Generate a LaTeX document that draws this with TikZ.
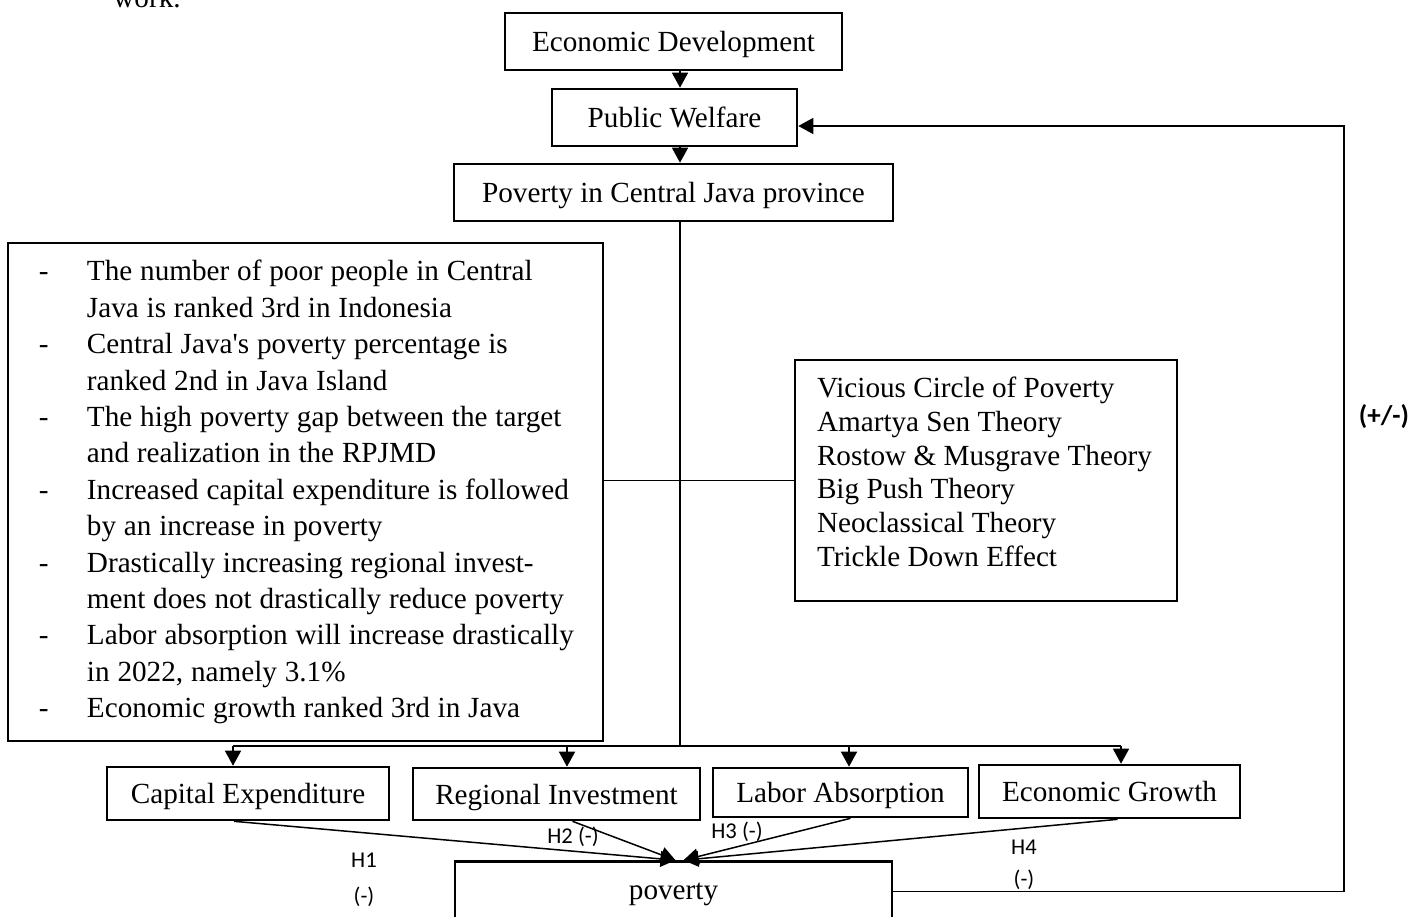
\documentclass[tikz,border=0pt]{standalone}
\usepackage{fontspec}
\setmainfont{Liberation Serif}
\newfontfamily\hfont{Carlito}
\usetikzlibrary{arrows.meta}

\begin{document}
\begin{tikzpicture}[x=0.5pt, y=-0.5pt, font=\fontsize{14.6}{16.9}\selectfont,
  b/.style={draw, line width=1.3pt, inner sep=0pt, align=center},
  v/.style={b, text depth=0pt},
  a/.style={line width=0.75pt, -{Triangle[length=7.5pt, width=8pt]}},
  l/.style={line width=0.75pt},
  h/.style={inner sep=0pt, font=\hfont\fontsize{11.3}{13}\selectfont}]
\useasboundingbox (0,0) rectangle (1418,916);
\node[anchor=base west, inner sep=0pt] (wk) at (113,7) {work.};
% top chain
\node[v, minimum width=168.5pt, minimum height=28.5pt] (ed) at (673.5,41.5) {Economic Development};
\node[v, minimum width=122.5pt, minimum height=28.5pt] (pw) at (674.5,117.5) {Public Welfare};
\node[v, minimum width=219.5pt, minimum height=28.5pt] (pcj) at (673.5,192.5) {Poverty in Central Java province};
% problem list and theories
\node[b, align=left, text width=297.5pt, minimum height=249pt] (lbox) at (305.5,492) {\fontsize{14.6}{18.2}\selectfont\spaceskip=3.9pt
\begin{tabular}{@{}p{39.5pt}@{}l@{}}
\hspace*{15.5pt}- & The number of poor people in Central\\
 & Java is ranked 3rd in Indonesia\\
\hspace*{15.5pt}- & Central Java\textquotesingle s poverty percentage is\\
 & ranked 2nd in Java Island\\
\hspace*{15.5pt}- & The high poverty gap between the target\\
 & and realization in the RPJMD\\
\hspace*{15.5pt}- & Increased capital expenditure is followed\\
 & by an increase in poverty\\
\hspace*{15.5pt}- & Drastically increasing regional invest-\\
 & ment does not drastically reduce poverty\\
\hspace*{15.5pt}- & Labor absorption will increase drastically\\
 & in 2022, namely 3.1\%\\
\hspace*{15.5pt}- & Economic growth ranked 3rd in Java
\end{tabular}};
\node[b, inner xsep=11pt, inner ysep=0pt, align=left] (rbox) at (986,480.5) {\parbox[c][120.5pt][t]{169pt}{\vspace*{8.5pt}Vicious Circle of Poverty\\
Amartya Sen Theory\\
Rostow \& Musgrave Theory\\
Big Push Theory\\
Neoclassical Theory\\
Trickle Down Effect}};
% variables
\node[v, minimum width=141pt, minimum height=26.5pt] (cap) at (248,793.5) {Capital Expenditure};
\node[v, minimum width=143.5pt, minimum height=26pt] (reg) at (556.5,794) {Regional Investment};
\node[v, minimum width=127.5pt, minimum height=24.5pt] (lab) at (840.5,792.5) {Labor Absorption};
\node[v, minimum width=130.5pt, minimum height=26.5pt] (gro) at (1109.5,791.5) {Economic Growth};
\node[v, minimum width=218.5pt, minimum height=30pt] (pv) at (673.5,891.5) {poverty};
% hypothesis labels
\node[h] (h1) at (364,860) {H1};
\node[h] (h1s) at (364,897) {(-)};
\node[h] (h2) at (573,837) {H2 (-)};
\node[h] (h3) at (737,832) {H3 (-)};
\node[h] (h4) at (1024,847) {H4};
\node[h] (h4s) at (1024,880) {(-)};
\node[inner sep=0pt, font=\hfont\bfseries\fontsize{13.5}{15}\selectfont] (pm) at (1384,417) {(+/-)};
% connectors
\coordinate (hub) at (680,746);
\coordinate (b1) at (233,746);
\coordinate (b2) at (567,746);
\coordinate (b3) at (849,746);
\coordinate (b4) at (1121,746);
\coordinate (fb) at (1344,126);
\draw[a] (ed.south -| hub) -- (pw.north -| hub);
\draw[a] (pw.south -| hub) -- (pcj.north -| hub);
\draw[l] (pcj.south -| hub) -- (hub);
\draw[l] (b1) -- (b4);
\draw[l] (lbox.east |- rbox.west) -- (rbox.west);
\draw[a] (b1) -- (b1 |- cap.north);
\draw[a] (b2) -- (b2 |- reg.north);
\draw[a] (b3) -- (b3 |- lab.north);
\draw[a] (b4) -- (b4 |- gro.north);
\draw[a] ([xshift=-7pt]cap.south) -- ([xshift=1pt]pv.north);
\draw[a] ([xshift=8pt]reg.south) -- ([xshift=1pt]pv.north);
\draw[a] ([xshift=5pt]lab.south) -- ([xshift=5pt]pv.north);
\draw[a] ([xshift=4pt]gro.south) -- ([xshift=5pt]pv.north);
\draw[a] (pv.east) -| (fb) -- (fb -| pw.east);
\end{tikzpicture}
\end{document}
